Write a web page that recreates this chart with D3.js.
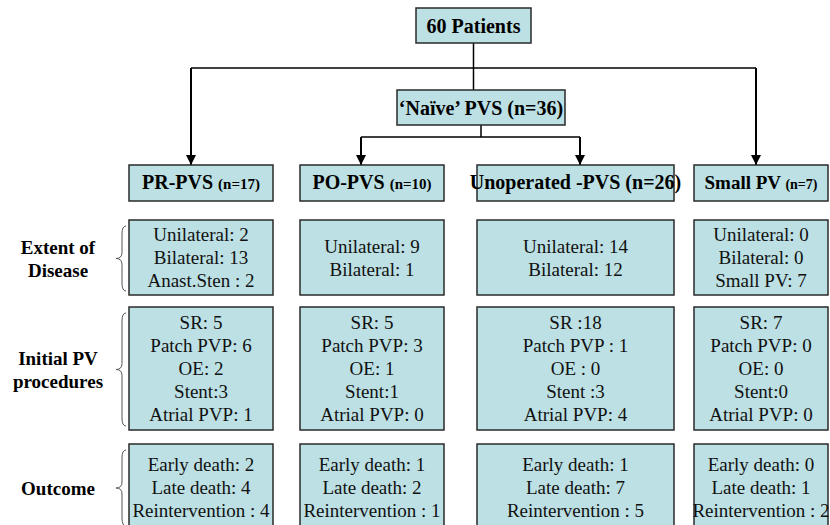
<!DOCTYPE html>
<html>
<head>
<meta charset="utf-8">
<script src="https://cdn.jsdelivr.net/npm/d3@7"></script>
<style>
  html, body { margin: 0; padding: 0; background: #fff; }
  svg { display: block; }
  svg text { font-family: 'Liberation Serif', 'Times New Roman', Times, 'DejaVu Serif', serif; }
</style>
</head>
<body>
<svg id="chart"></svg>
<script>
// Flow chart data
const rootLabel = '60 Patients';
const naiveLabel = '\u2018Na\u00efve\u2019 PVS (n=36)';
const groups = ['PR-PVS', 'PO-PVS', 'Unoperated -PVS', 'Small PV'];
const groupCounts = [17, 10, 26, 7];
const rowLabels = [['Extent of', 'Disease'], ['Initial PV', 'procedures'], ['Outcome']];
const extentLines = [
  ['Unilateral: 2', 'Bilateral: 13', 'Anast.Sten : 2'],
  ['Unilateral: 9', 'Bilateral: 1'],
  ['Unilateral: 14', 'Bilateral: 12'],
  ['Unilateral: 0', 'Bilateral: 0', 'Small PV: 7']
];
const procedureLines = [
  ['SR: 5', 'Patch PVP: 6', 'OE: 2', 'Stent:3', 'Atrial PVP: 1'],
  ['SR: 5', 'Patch PVP: 3', 'OE: 1', 'Stent:1', 'Atrial PVP: 0'],
  ['SR :18', 'Patch PVP : 1', 'OE : 0', 'Stent :3', 'Atrial PVP: 4'],
  ['SR: 7', 'Patch PVP: 0', 'OE: 0', 'Stent:0', 'Atrial PVP: 0']
];
const outcomeLines = [
  ['Early death: 2', 'Late death: 4', 'Reintervention : 4'],
  ['Early death: 1', 'Late death: 2', 'Reintervention : 1'],
  ['Early death: 1', 'Late death: 7', 'Reintervention : 5'],
  ['Early death: 0', 'Late death: 1', 'Reintervention : 2']
];
// which groups come from the root directly vs from the naive box
const fromRoot = ['PR-PVS', 'Small PV'];
const fromNaive = ['PO-PVS', 'Unoperated -PVS'];

const W = 830, H = 525;
const FILL = '#bce0e3';
const STROKE = '#2a2a2a';

const svg = d3.select('#chart').attr('width', W).attr('height', H);

// Layout scales
const colX = d3.scaleOrdinal().domain(groups).range([129, 300, 477, 694]);
const colW = d3.scaleOrdinal().domain(groups).range([144, 144, 197, 134]);
const colC = g => colX(g) + colW(g) / 2;
const rowTop = d3.scaleOrdinal().domain([0, 1, 2]).range([220, 307, 444]);
const rowH = d3.scaleOrdinal().domain([0, 1, 2]).range([75, 123, 86]);
const lineH = 23;

const headerY = 165, headerH = 36;
const rootBox = { x: 416, y: 8, w: 115, h: 35 };
const naiveBox = { x: 397, y: 90, w: 168, h: 35 };
const rootBarY = 68, naiveBarY = 137;
const rootArrowX = [191, 756];

// Arrow marker
svg.append('defs').append('marker')
  .attr('id', 'arrow')
  .attr('viewBox', '0 0 10 10')
  .attr('refX', 10).attr('refY', 5)
  .attr('markerWidth', 5).attr('markerHeight', 5)
  .attr('markerUnits', 'strokeWidth')
  .attr('orient', 'auto')
  .append('path').attr('d', 'M0,0 L10,5 L0,10 z').attr('fill', '#000');

const conn = svg.append('g').attr('stroke', '#000').attr('fill', 'none');

// Root -> bar
const rootC = rootBox.x + rootBox.w / 2;
conn.append('line').attr('x1', rootC).attr('y1', rootBox.y + rootBox.h)
  .attr('x2', rootC).attr('y2', naiveBox.y).attr('stroke-width', 1.5);
conn.append('line').attr('x1', d3.min(rootArrowX)).attr('y1', rootBarY)
  .attr('x2', d3.max(rootArrowX)).attr('y2', rootBarY).attr('stroke-width', 1.5);
conn.selectAll('.rootArrow').data(rootArrowX).join('line')
  .attr('x1', d => d).attr('y1', rootBarY)
  .attr('x2', d => d).attr('y2', headerY)
  .attr('stroke-width', 2).attr('marker-end', 'url(#arrow)');

// Naive -> bar
const naiveC = naiveBox.x + naiveBox.w / 2;
conn.append('line').attr('x1', naiveC).attr('y1', naiveBox.y + naiveBox.h)
  .attr('x2', naiveC).attr('y2', naiveBarY).attr('stroke-width', 1.5);
const naiveArrowX = [361, 580];
conn.append('line').attr('x1', d3.min(naiveArrowX)).attr('y1', naiveBarY)
  .attr('x2', d3.max(naiveArrowX)).attr('y2', naiveBarY).attr('stroke-width', 1.5);
conn.selectAll('.naiveArrow').data(naiveArrowX).join('line')
  .attr('x1', d => d).attr('y1', naiveBarY)
  .attr('x2', d => d).attr('y2', headerY)
  .attr('stroke-width', 2).attr('marker-end', 'url(#arrow)');

function box(x, y, w, h) {
  svg.append('rect').attr('x', x).attr('y', y).attr('width', w).attr('height', h)
    .attr('fill', FILL).attr('stroke', STROKE).attr('stroke-width', 1.5);
}

// Top boxes
box(rootBox.x, rootBox.y, rootBox.w, rootBox.h);
svg.append('text').attr('x', rootC).attr('y', rootBox.y + rootBox.h / 2)
  .attr('dy', '0.35em').attr('text-anchor', 'middle')
  .attr('font-weight', 'bold').attr('font-size', 20)
  .text(rootLabel);

box(naiveBox.x, naiveBox.y, naiveBox.w, naiveBox.h);
svg.append('text').attr('x', naiveC).attr('y', naiveBox.y + naiveBox.h / 2)
  .attr('dy', '0.35em').attr('text-anchor', 'middle')
  .attr('font-weight', 'bold').attr('font-size', 20)
  .text(naiveLabel);

// Group headers
const nSize = [15, 15, 20, 14];
const mainSize = [20, 20, 20, 19];
groups.forEach((g, i) => {
  box(colX(g), headerY, colW(g), headerH);
  const t = svg.append('text')
    .attr('x', colC(g)).attr('y', headerY + headerH / 2)
    .attr('dy', '0.35em').attr('text-anchor', 'middle')
    .attr('font-weight', 'bold');
  t.append('tspan').attr('font-size', mainSize[i]).text(g + ' ');
  t.append('tspan').attr('font-size', nSize[i]).text(`(n=${groupCounts[i]})`);
});

// Detail rows
const rowData = [extentLines, procedureLines, outcomeLines];
rowData.forEach((rows, r) => {
  groups.forEach((g, i) => {
    const y0 = rowTop(r), h = rowH(r);
    box(colX(g), y0, colW(g), h);
    const lines = rows[i];
    const cy = y0 + h / 2;
    svg.append('g').selectAll('text').data(lines).join('text')
      .attr('x', colC(g))
      .attr('y', (d, k) => cy + (k - (lines.length - 1) / 2) * lineH)
      .attr('dy', '0.35em').attr('text-anchor', 'middle')
      .attr('font-size', 19).attr('fill', '#111')
      .text(d => d);
  });

  // brace
  const top = rowTop(r) + 6, bot = rowTop(r) + rowH(r) - 4;
  const mid = (top + bot) / 2;
  const xe = 126, xm = 122, xt = 116;
  svg.append('path')
    .attr('d', `M${xe},${top} Q${xm},${top} ${xm},${top + 8} L${xm},${mid - 6} Q${xm},${mid} ${xt},${mid} ` +
      `Q${xm},${mid} ${xm},${mid + 6} L${xm},${bot - 8} Q${xm},${bot} ${xe},${bot}`)
    .attr('fill', 'none').attr('stroke', '#555').attr('stroke-width', 1);

  // row label
  const labels = rowLabels[r];
  svg.append('g').selectAll('text').data(labels).join('text')
    .attr('x', 58)
    .attr('y', (d, k) => mid + (k - (labels.length - 1) / 2) * 23)
    .attr('dy', '0.35em').attr('text-anchor', 'middle')
    .attr('font-weight', 'bold').attr('font-size', 19)
    .text(d => d);
});
</script>
</body>
</html>
